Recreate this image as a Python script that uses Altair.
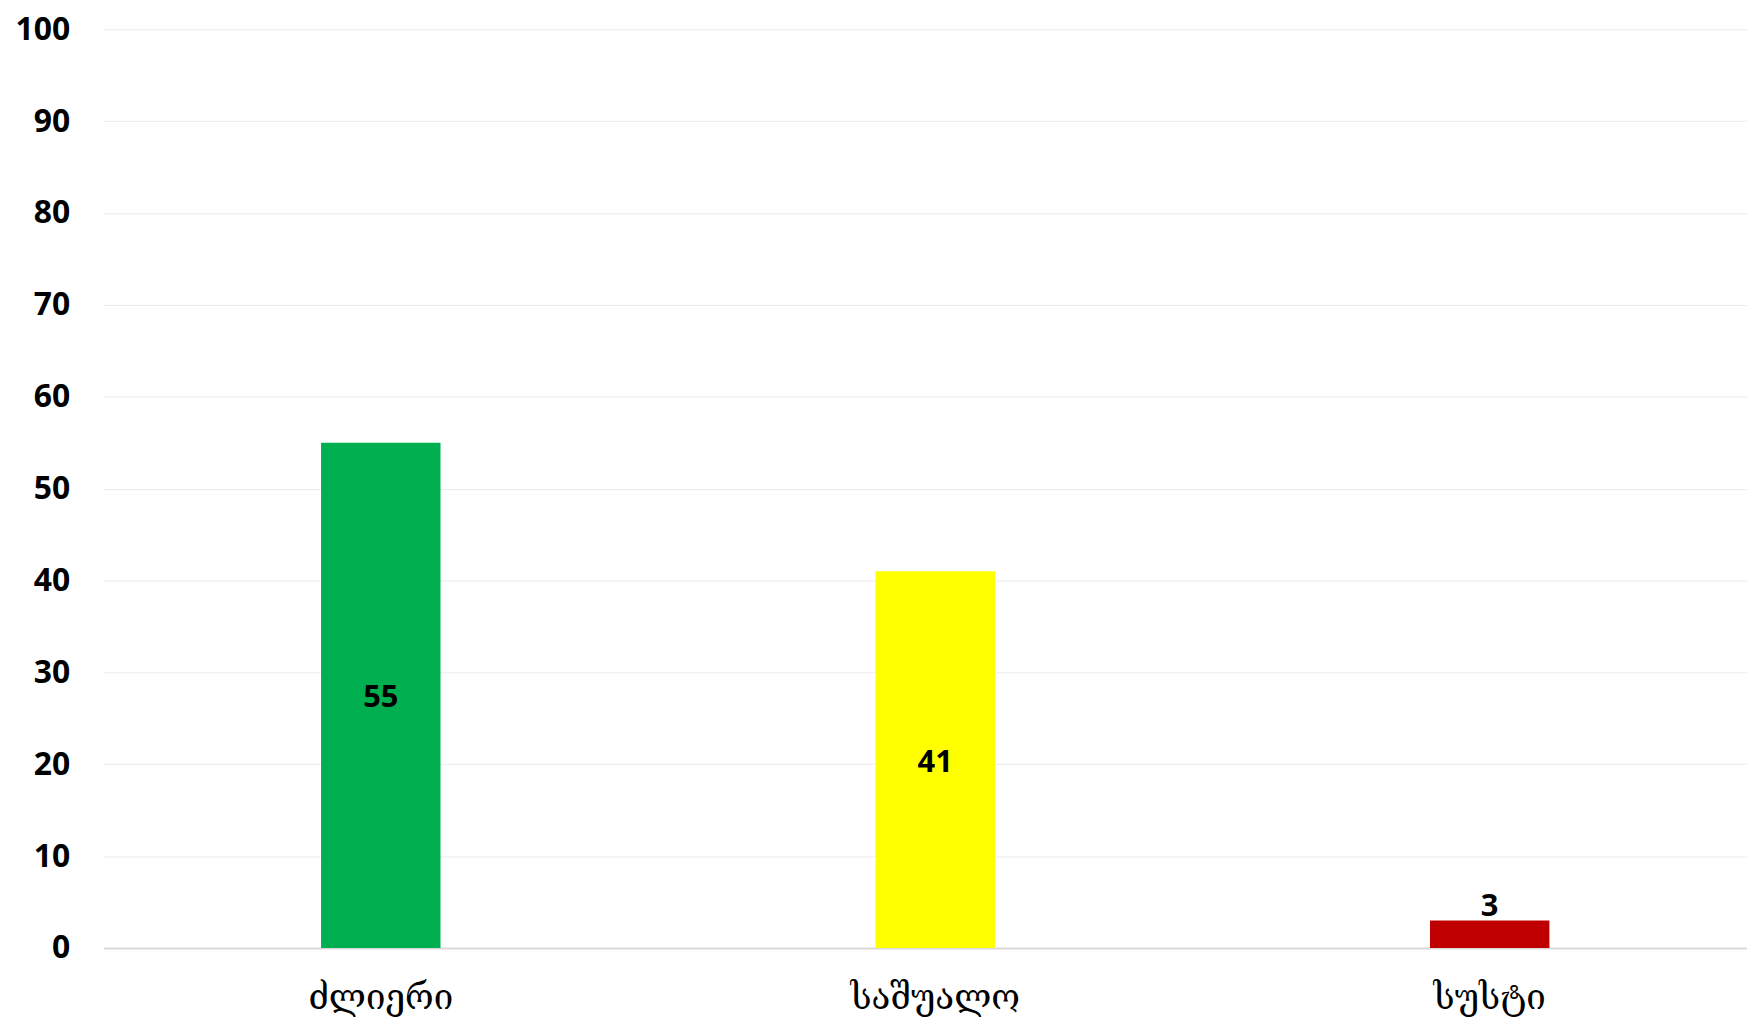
import altair as alt
import pandas as pd

categories = ["ძლიერი", "საშუალო", "სუსტი"]
values = [55, 41, 3]
colors = ["#00B050", "#FFFF00", "#C00000"]
label_inside = [True, True, False]

df = pd.DataFrame({"cat": categories, "val": values, "color": colors, "inside": label_inside})

x = alt.X("cat:N", sort=categories, title=None,
          scale=alt.Scale(range=[0, 1671], paddingInner=0, paddingOuter=0),
          axis=alt.Axis(labelAngle=0, labelFont="DejaVu Serif, DejaVu Sans", labelFontSize=35,
                        labelColor="#000000", labelPadding=33, ticks=False,
                        domainColor="#d9d9d9", domainWidth=2))
y_scale = alt.Scale(domain=[0, 100], nice=False)

bars = alt.Chart(df).mark_bar(size=120).encode(
    x=x,
    y=alt.Y("val:Q", scale=y_scale, title=None,
            axis=alt.Axis(values=list(range(0, 101, 10)), labelFont="Open Sans",
                          labelFontWeight="bold", labelFontSize=32, labelColor="#000000",
                          labelPadding=34, ticks=False, domain=False,
                          gridColor="#ebebeb", gridWidth=1)),
    color=alt.Color("color:N", scale=None),
)

inside = alt.Chart(df).transform_filter("datum.inside").transform_calculate(
    mid="datum.val / 2"
).mark_text(font="Open Sans", fontWeight="bold", fontSize=31, color="#000000",
            baseline="middle", dy=3).encode(
    x=alt.X("cat:N", sort=categories),
    y=alt.Y("mid:Q", scale=y_scale),
    text=alt.Text("val:Q"),
)

outside = alt.Chart(df).transform_filter("!datum.inside").mark_text(
    font="Open Sans", fontWeight="bold", fontSize=31, color="#000000",
    baseline="bottom", dy=3).encode(
    x=alt.X("cat:N", sort=categories),
    y=alt.Y("val:Q", scale=y_scale),
    text=alt.Text("val:Q"),
)

chart = alt.layer(bars, inside, outside).properties(
    width=1651, height=923,
    autosize=alt.AutoSizeParams(type="none"),
    padding={"left": 96, "top": 19, "right": 0, "bottom": 72},
).configure_view(stroke=None)

chart.save("out.html", embed_options={"renderer": "svg", "actions": False})
